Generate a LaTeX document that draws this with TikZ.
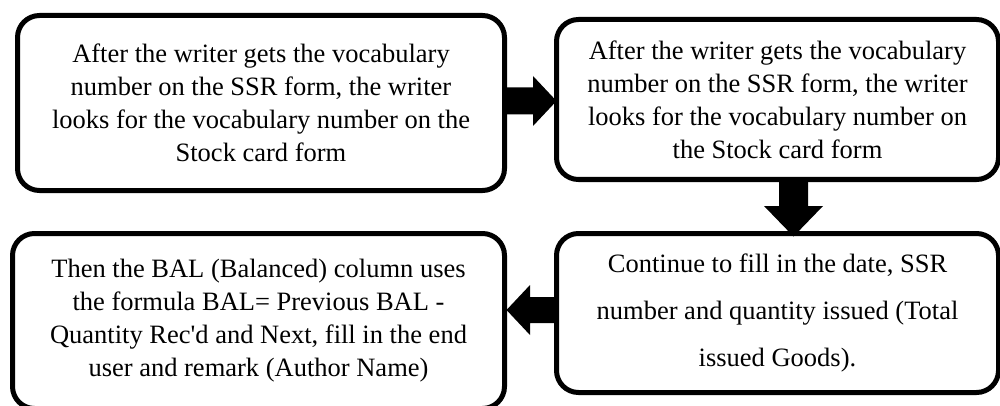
\documentclass[tikz,border=0pt]{standalone}
\usepackage{fontspec}
\setmainfont{Liberation Serif}[Ligatures=TeXOff]
\usetikzlibrary{calc}

\tikzset{
  stepbox/.style={draw=black, fill=white, line width=5pt, rounded corners=22pt,
    rectangle, outer sep=0pt, inner sep=0pt, align=center,
    font=\fontsize{26.5}{33}\selectfont},
  blockarrow/.style={fill=black, draw=none}
}

\begin{document}
\begin{tikzpicture}[x=1pt, y=-1pt]
  \useasboundingbox (0,0) rectangle (1000,406);

  % process steps
  \node[stepbox, minimum width=487pt, minimum height=175pt] (b1) at (261,103)
    {After the writer gets the vocabulary\\
     number on the SSR form, the writer\\
     looks for the vocabulary number on the\\
     Stock card form};
  \node[stepbox, minimum width=442pt, minimum height=160pt] (b2) at (777.5,99.5)
    {After the writer gets the vocabulary\\
     number on the SSR form, the writer\\
     looks for the vocabulary number on\\
     the Stock card form};
  \node[stepbox, minimum width=442pt, minimum height=159pt,
        font=\fontsize{26.5}{47}\selectfont] (b4) at (777.5,313)
    {Continue to fill in the date, SSR\\
     number and quantity issued (Total\\
     issued Goods).};
  \node[stepbox, minimum width=492pt, minimum height=175pt] (b3) at (258.5,321)
    {Then the BAL (Balanced) column uses\\
     the formula BAL= Previous BAL -\\
     Quantity Rec'd and Next, fill in the end\\
     user and remark (Author Name)};

  % block arrow b1 -> b2
  \coordinate (a1) at ($(b1.east)+(0,-2)$);
  \coordinate (a1e) at (b2.west |- a1);
  \fill[blockarrow] ($(a1)+(0,-13.5)$) -- ($(a1)+(28.5,-13.5)$) -- ($(a1)+(28.5,-25)$)
    -- (a1e) -- ($(a1)+(28.5,25)$) -- ($(a1)+(28.5,13.5)$) -- ($(a1)+(0,13.5)$) -- cycle;

  % block arrow b2 -> b4
  \coordinate (a2) at ($(b2.south)+(16,0)$);
  \coordinate (a2e) at ($(a2 |- b4.north)+(0,3)$);
  \fill[blockarrow] ($(a2)+(-14.5,0)$) -- ($(a2)+(-14.5,26.5)$) -- ($(a2)+(-29.5,26.5)$)
    -- (a2e) -- ($(a2)+(29.5,26.5)$) -- ($(a2)+(14.5,26.5)$) -- ($(a2)+(14.5,0)$) -- cycle;

  % block arrow b4 -> b3
  \coordinate (a3) at ($(b4.west)+(0,-3)$);
  \coordinate (a3e) at ($(b3.east |- a3)+(2,0)$);
  \fill[blockarrow] ($(a3)+(0,-13)$) -- ($(a3)+(-26.5,-13)$) -- ($(a3)+(-26.5,-25)$)
    -- (a3e) -- ($(a3)+(-26.5,25)$) -- ($(a3)+(-26.5,13)$) -- ($(a3)+(0,13)$) -- cycle;
\end{tikzpicture}
\end{document}
